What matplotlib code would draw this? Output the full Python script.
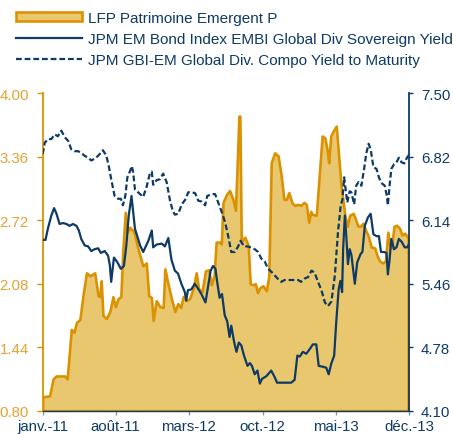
import numpy as np
import pandas as pd
import matplotlib
matplotlib.use("Agg")
import matplotlib.pyplot as plt
from matplotlib.lines import Line2D
from matplotlib.patches import Patch

plt.rcParams["font.family"] = ["Liberation Sans", "DejaVu Sans"]

# ---- data (days counted from 1 Jan 2011) ----
start = pd.Timestamp("2011-01-01")

fund_day = [0, 20, 30, 39, 64, 71, 83, 91, 98, 108, 117, 127, 137, 151, 161, 166, 170, 175,
            185, 195, 204, 211, 219, 227, 233, 240, 246, 253, 257, 262, 267, 277, 291, 301,
            308, 316, 321, 330, 340, 350, 355, 364, 374, 384, 393, 401, 408, 417, 427, 437,
            446, 453, 463, 473, 482, 490, 498, 504, 514, 519, 524, 534, 543, 553, 560, 566,
            570, 573, 577, 587, 597, 603, 611, 618, 624, 631, 640, 650, 657, 664, 674, 684,
            693, 701, 708, 715, 724, 732, 742, 750, 759, 766, 773, 779, 783, 795, 805, 812,
            820, 827, 831, 837, 844, 853, 863, 868, 873, 878, 885, 892, 902, 908, 916, 923,
            931, 938, 945, 955, 965, 972, 979, 989, 996, 1003, 1008, 1013, 1021, 1028, 1037,
            1044, 1052, 1062]
fund_val = [0.94, 0.95, 1.12, 1.15, 1.15, 1.12, 1.62, 1.59, 1.69, 1.72, 1.96, 2.19, 2.16,
            2.19, 1.96, 1.95, 2.11, 1.76, 1.73, 1.80, 1.95, 1.85, 1.93, 1.95, 2.43, 2.80,
            2.60, 2.65, 2.63, 2.62, 2.58, 2.43, 2.26, 2.29, 1.96, 1.94, 1.71, 1.91, 1.85,
            1.84, 2.23, 2.08, 1.93, 1.80, 1.88, 1.84, 1.95, 1.91, 1.93, 2.03, 2.19, 2.03,
            2.00, 2.21, 2.22, 2.07, 2.16, 2.50, 2.50, 2.48, 2.90, 2.98, 3.02, 2.93, 2.82,
            3.37, 3.77, 3.77, 2.50, 2.55, 2.47, 2.08, 2.07, 2.08, 1.99, 2.04, 2.06, 2.01,
            2.16, 3.30, 3.40, 3.37, 3.17, 2.93, 2.93, 3.00, 2.90, 2.87, 2.88, 2.87, 2.90,
            2.88, 2.70, 2.81, 2.78, 2.77, 3.24, 3.57, 3.55, 3.42, 3.30, 3.57, 3.62, 3.67,
            3.24, 3.03, 2.91, 2.77, 2.66, 2.77, 2.79, 2.74, 2.66, 2.66, 2.69, 2.62, 2.57,
            2.45, 2.44, 2.36, 2.31, 2.29, 2.31, 2.60, 2.47, 2.44, 2.66, 2.67, 2.64, 2.57,
            2.59, 2.54]

embi_day = [0, 8, 15, 25, 33, 40, 49, 59, 69, 78, 88, 98, 105, 112, 122, 132, 141, 151, 161,
            169, 180, 190, 195, 199, 207, 217, 227, 236, 243, 250, 258, 268, 283, 292, 307,
            317, 321, 331, 346, 355, 365, 374, 384, 393, 403, 413, 417, 422, 432, 442, 451,
            461, 473, 480, 488, 495, 502, 507, 514, 521, 529, 536, 543, 548, 556, 563, 570,
            577, 585, 595, 602, 608, 616, 624, 631, 637, 650, 664, 674, 681, 693, 708, 722,
            732, 740, 747, 756, 766, 776, 785, 795, 802, 815, 824, 831, 839, 847, 853, 860,
            865, 870, 873, 878, 882, 887, 892, 897, 907, 914, 924, 929, 936, 945, 953, 961,
            970, 977, 983, 992, 999, 1003, 1008, 1013, 1021, 1028, 1035, 1043, 1052, 1059,
            1064]
embi_val = [5.93, 5.93, 6.05, 6.19, 6.27, 6.21, 6.10, 6.11, 6.10, 6.08, 6.10, 6.08, 6.03,
            5.94, 5.87, 5.86, 5.81, 5.83, 5.84, 5.79, 5.81, 5.76, 5.66, 5.48, 5.74, 5.69,
            5.62, 5.65, 5.87, 6.19, 6.40, 6.05, 5.87, 5.80, 5.92, 6.03, 5.85, 5.88, 5.89,
            5.86, 5.95, 5.72, 5.60, 5.57, 5.46, 5.37, 5.28, 5.39, 5.40, 5.46, 5.41, 5.35,
            5.26, 5.42, 5.60, 5.65, 5.62, 5.48, 5.31, 5.35, 5.12, 5.06, 4.89, 5.01, 4.84,
            4.73, 4.83, 4.80, 4.69, 4.58, 4.61, 4.58, 4.49, 4.53, 4.39, 4.44, 4.47, 4.53,
            4.46, 4.40, 4.40, 4.40, 4.40, 4.43, 4.69, 4.68, 4.73, 4.71, 4.76, 4.81, 4.81,
            4.58, 4.57, 4.56, 4.49, 4.61, 4.69, 5.05, 5.40, 5.49, 5.37, 5.83, 6.19, 5.98,
            5.67, 5.83, 5.77, 5.46, 5.69, 5.78, 5.80, 6.08, 6.17, 6.21, 5.99, 5.97, 5.97,
            5.80, 5.80, 5.79, 5.56, 5.72, 5.94, 5.83, 5.85, 5.94, 5.91, 5.85, 5.85, 5.88]

gbi_day = [0, 6, 15, 25, 35, 44, 54, 64, 74, 83, 93, 103, 112, 122, 132, 141, 151, 161, 175,
           185, 192, 199, 209, 219, 227, 233, 240, 246, 253, 259, 263, 268, 283, 292, 302,
           312, 317, 321, 331, 341, 350, 360, 370, 378, 384, 394, 404, 414, 423, 433, 443,
           452, 462, 472, 478, 491, 501, 510, 520, 530, 539, 548, 558, 568, 575, 585, 595,
           604, 616, 626, 635, 645, 655, 664, 674, 684, 693, 703, 718, 732, 742, 751, 763,
           771, 781, 790, 800, 810, 820, 829, 839, 849, 858, 866, 871, 876, 880, 885, 892,
           897, 905, 911, 918, 926, 934, 940, 947, 953, 961, 970, 977, 984, 994, 1000, 1003,
           1008, 1013, 1021, 1028, 1035, 1043, 1051, 1057, 1064]
gbi_val = [6.85, 6.97, 7.01, 7.01, 7.06, 7.04, 7.10, 7.03, 6.99, 6.90, 6.88, 6.88, 6.86,
           6.83, 6.81, 6.78, 6.80, 6.83, 6.89, 6.83, 6.72, 6.58, 6.40, 6.37, 6.37, 6.30,
           6.40, 6.60, 6.66, 6.72, 6.65, 6.47, 6.42, 6.39, 6.50, 6.65, 6.66, 6.52, 6.57,
           6.58, 6.64, 6.55, 6.35, 6.24, 6.20, 6.21, 6.31, 6.36, 6.44, 6.44, 6.43, 6.35,
           6.34, 6.30, 6.40, 6.42, 6.42, 6.33, 6.23, 6.12, 5.97, 5.80, 5.80, 5.86, 5.92,
           5.86, 5.86, 5.85, 5.83, 5.80, 5.73, 5.70, 5.62, 5.59, 5.55, 5.51, 5.48, 5.50,
           5.50, 5.50, 5.50, 5.48, 5.52, 5.53, 5.60, 5.58, 5.48, 5.39, 5.26, 5.22, 5.27,
           5.55, 6.01, 6.30, 6.36, 6.60, 6.48, 6.33, 6.45, 6.44, 6.31, 6.51, 6.55, 6.51,
           6.69, 6.85, 6.96, 6.90, 6.71, 6.69, 6.60, 6.54, 6.51, 6.40, 6.30, 6.51, 6.69,
           6.74, 6.76, 6.81, 6.76, 6.75, 6.80, 6.84]

left_ticks = [0.80, 1.44, 2.08, 2.72, 3.36, 4.00]
right_ticks = [4.10, 4.78, 5.46, 6.14, 6.82, 7.50]
x_tick_dates = ["2011-01-01", "2011-08-01", "2012-03-01", "2012-10-01", "2013-05-01", "2013-12-01"]
x_tick_labels = ["janv.-11", "août-11", "mars-12", "oct.-12", "mai-13", "déc.-13"]

labels = ["LFP Patrimoine Emergent P",
          "JPM EM Bond Index EMBI Global Div Sovereign Yield",
          "JPM GBI-EM Global Div. Compo Yield to Maturity"]

# ---- style ----
ORANGE = "#DC9200"
FILL = "#E9C76E"
NAVY = "#0E3A66"
ORANGE_TXT = "#E6A232"
TICK_SIZE = 10.8

def to_dates(days):
    return start + pd.to_timedelta(np.asarray(days), unit="D")

fig = plt.figure(figsize=(4.53, 4.35), dpi=100)
ax1 = fig.add_axes([0.0943, 0.0536, 0.809, 0.7296])
ax2 = ax1.twinx()

fx = to_dates(fund_day)
ax1.fill_between(fx, 0.80, fund_val, facecolor=FILL, edgecolor=ORANGE, linewidth=1.9,
                 zorder=2)

ax2.plot(to_dates(embi_day), embi_val, color=NAVY, linewidth=1.6, solid_joinstyle="round")
ax2.plot(to_dates(gbi_day), gbi_val, color=NAVY, linewidth=1.6, linestyle=(0, (2.6, 1.3)))

xmin, xmax = pd.Timestamp("2011-01-01"), pd.Timestamp("2013-12-01")
ax1.set_xlim(xmin, xmax)
ax1.set_ylim(0.80, 4.00)
ax2.set_ylim(4.10, 7.50)

ax1.set_xticks(pd.to_datetime(x_tick_dates))
ax1.set_xticklabels(x_tick_labels)
ax1.set_yticks(left_ticks)
ax1.set_yticklabels([f"{v:.2f}" for v in left_ticks])
ax2.set_yticks(right_ticks)
ax2.set_yticklabels([f"{v:.2f}" for v in right_ticks])

ax1.tick_params(axis="x", colors="#8A9AAE", labelcolor=NAVY, labelsize=TICK_SIZE, length=3,
                width=1, pad=3)
ax1.tick_params(axis="y", colors=ORANGE, labelcolor=ORANGE_TXT, labelsize=TICK_SIZE,
                length=4.5, width=1, pad=5.5)
ax2.tick_params(axis="y", colors=NAVY, labelcolor=NAVY, labelsize=TICK_SIZE, length=3,
                width=1, pad=5.5)

for ax in (ax1, ax2):
    for side in ("top", "left", "right", "bottom"):
        ax.spines[side].set_visible(False)
ax1.spines["left"].set_visible(True)
ax1.spines["left"].set_color(ORANGE)
ax1.spines["left"].set_linewidth(1.3)
ax2.spines["right"].set_visible(True)
ax2.spines["right"].set_color(NAVY)
ax2.spines["right"].set_linewidth(1.3)
ax1.spines["bottom"].set_visible(True)
ax1.spines["bottom"].set_color(NAVY)
ax1.spines["bottom"].set_linewidth(1.0)

handles = [Patch(facecolor=FILL, edgecolor=ORANGE, linewidth=1.9),
           Line2D([], [], color=NAVY, linewidth=1.6),
           Line2D([], [], color=NAVY, linewidth=1.6, linestyle=(0, (2.6, 1.3)))]
fig.legend(handles, labels, loc="upper left", bbox_to_anchor=(16 / 453, 1 - 12 / 435),
           frameon=False, fontsize=11, handlelength=4.3, handleheight=0.6,
           handletextpad=0.4, labelspacing=0.45, borderpad=0, borderaxespad=0,
           labelcolor=NAVY)

fig.savefig("out.png", dpi=100)
